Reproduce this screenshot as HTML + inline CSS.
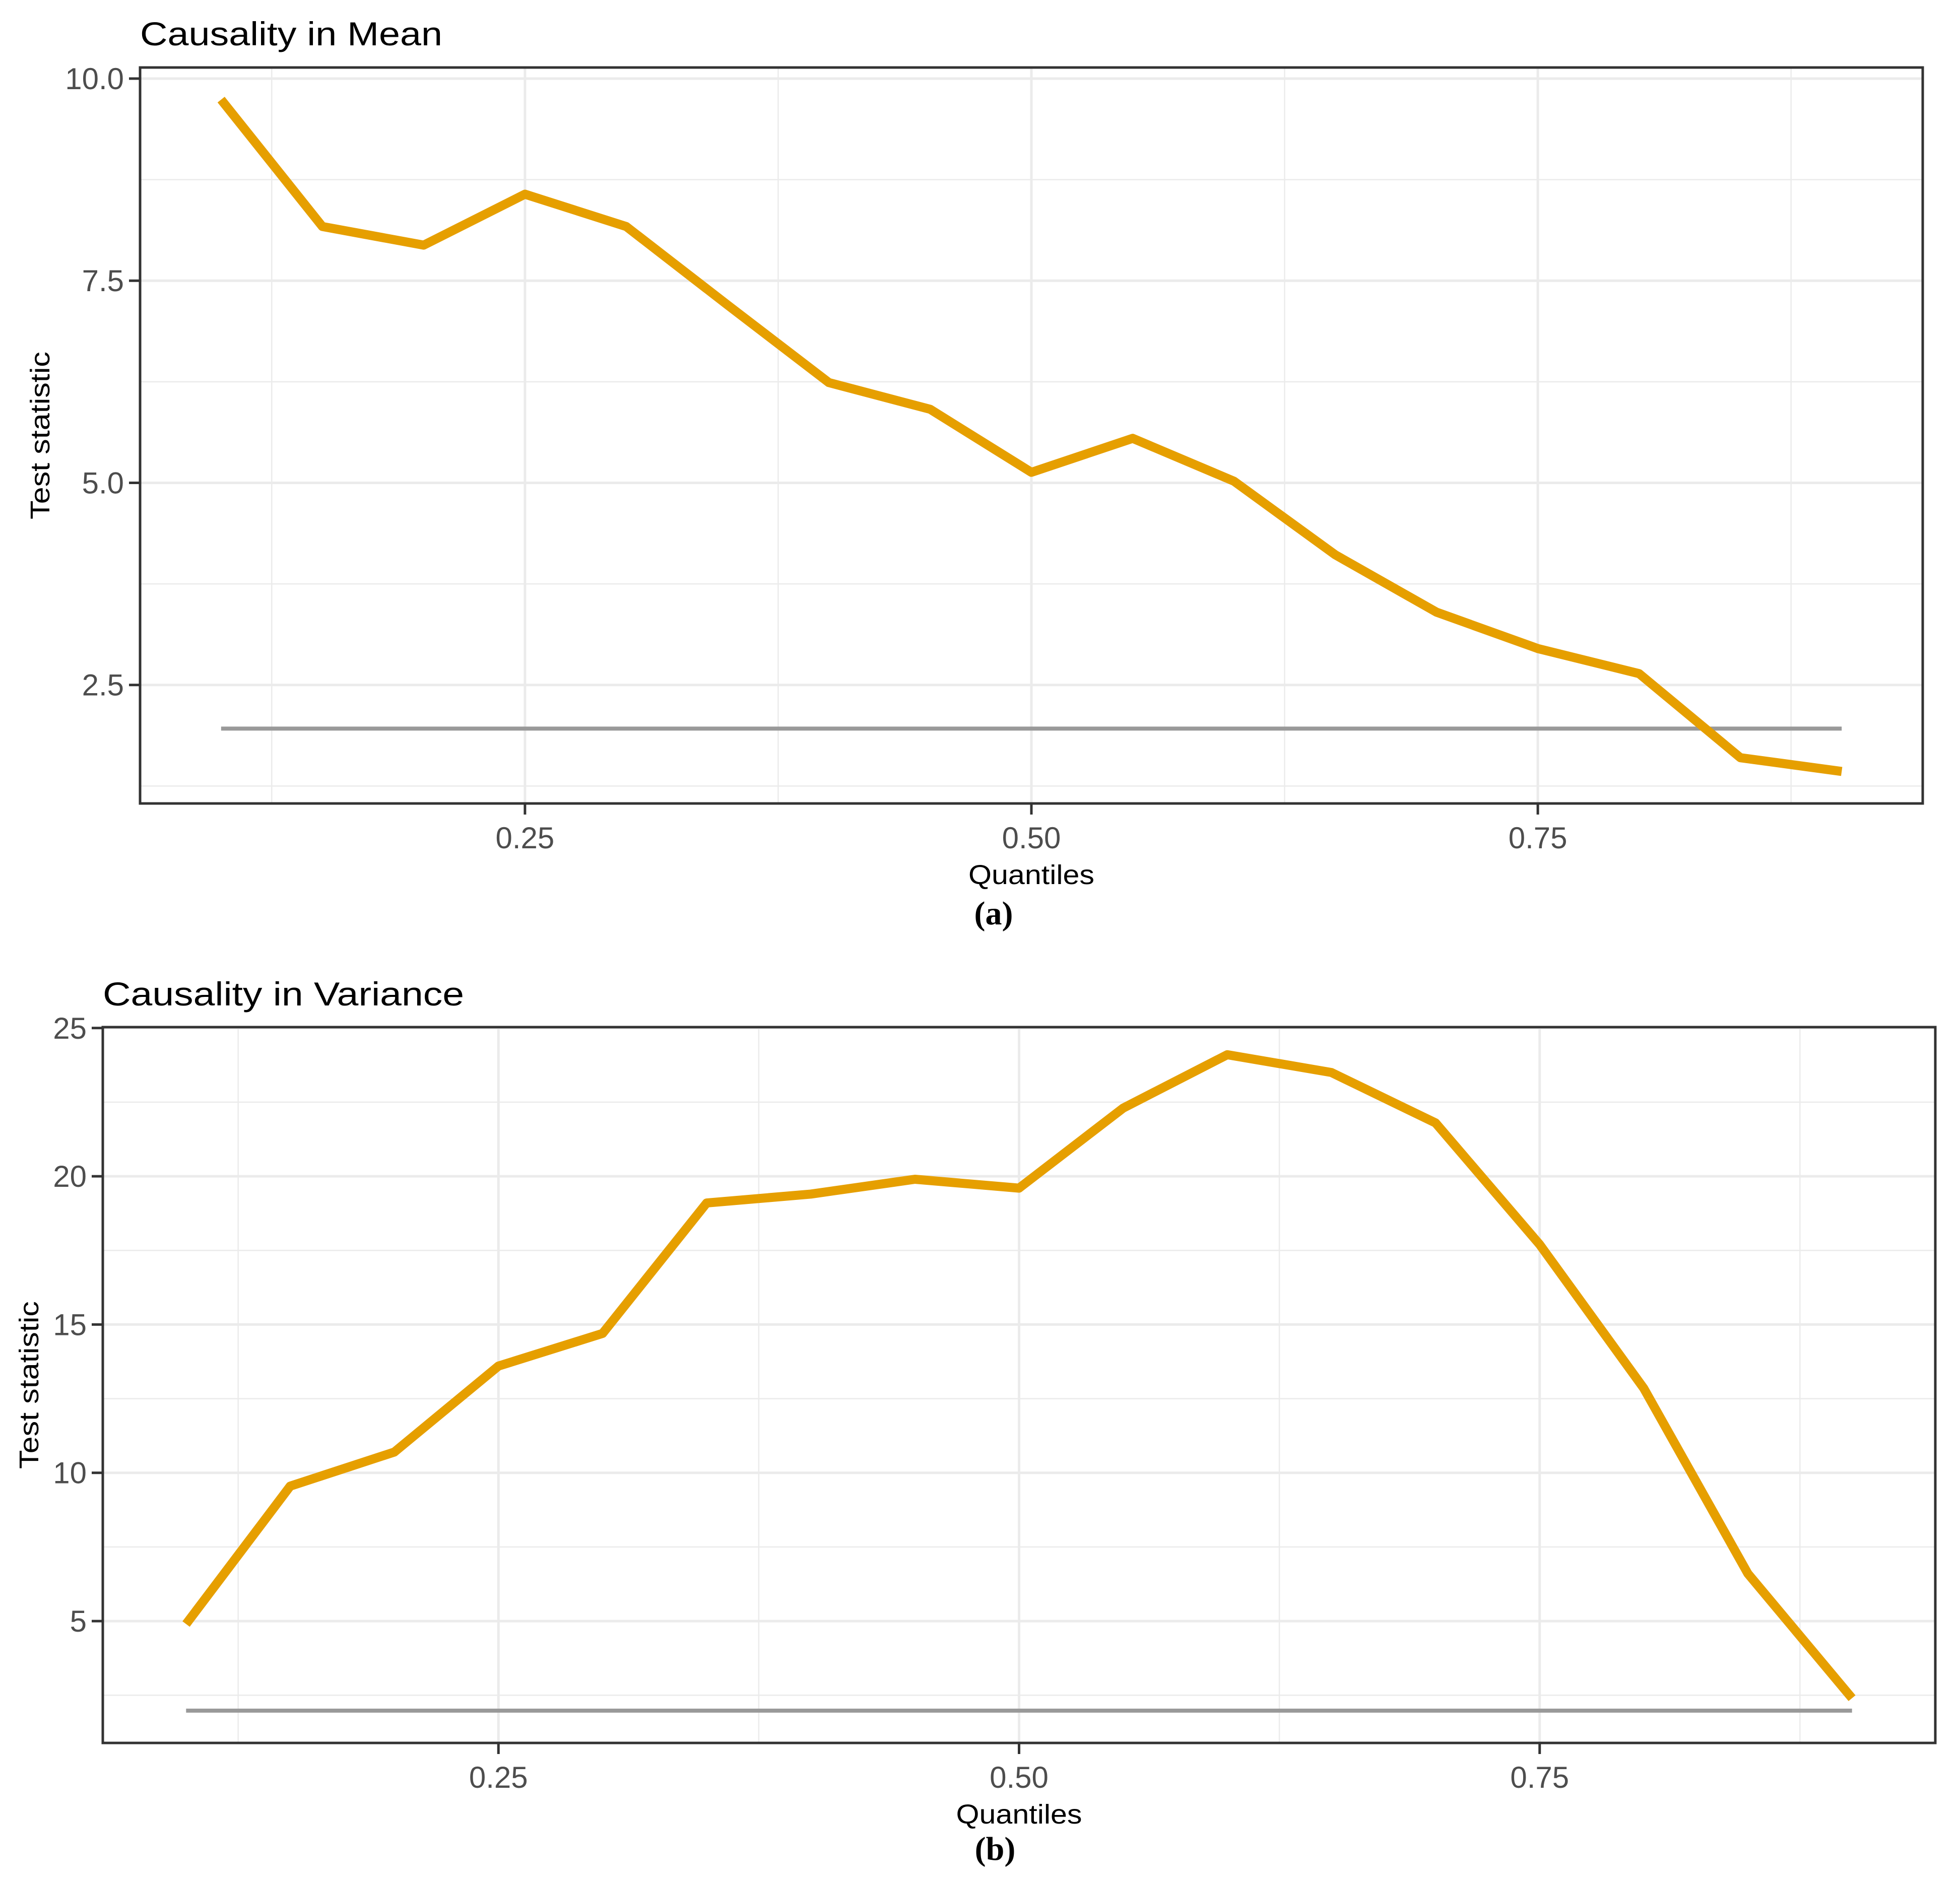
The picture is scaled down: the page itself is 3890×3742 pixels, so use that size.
<!DOCTYPE html>
<html><head><meta charset="utf-8"><style>
html,body{margin:0;padding:0;background:#fff;}
svg{display:block;}
</style></head>
<body>
<svg id="fig" width="3890" height="3742" viewBox="0 0 3890 3742" xmlns="http://www.w3.org/2000/svg"></svg>
<script>
// ---- Data ----
const quantiles = [0.10,0.15,0.20,0.25,0.30,0.35,0.40,0.45,0.50,0.55,0.60,0.65,0.70,0.75,0.80,0.85,0.90];
const meanStat = [9.74,8.17,7.94,8.57,8.17,7.20,6.24,5.91,5.13,5.55,5.02,4.11,3.40,2.95,2.64,1.60,1.43];
const meanCritical = [1.96];
const varStat = [4.9,9.55,10.7,13.6,14.7,19.1,19.4,19.9,19.6,22.3,24.1,23.5,21.8,17.7,12.85,6.6,2.4];
const varCritical = [1.98];
const xTicks = [0.25,0.50,0.75];
const xTickLabels = ["0.25","0.50","0.75"];
const xMinor = [0.125,0.375,0.625,0.875];
const meanYTicks = [2.5,5.0,7.5,10.0];
const meanYTickLabels = ["2.5","5.0","7.5","10.0"];
const meanYMinor = [1.25,3.75,6.25,8.75];
const varYTicks = [5,10,15,20,25];
const varYTickLabels = ["5","10","15","20","25"];
const varYMinor = [2.5,7.5,12.5,17.5,22.5];

const NS = "http://www.w3.org/2000/svg";
const svg = document.getElementById("fig");
const SANS = "font-family:'Liberation Sans',Arial,sans-serif";
function mk(tag, attrs, parent){
  const e = document.createElementNS(NS, tag);
  for (const k in attrs) e.setAttribute(k, attrs[k]);
  (parent||svg).appendChild(e);
  return e;
}

function drawPanel(cfg){
  const g = mk("g", {});
  
  
  const L=cfg.left, R=cfg.right, T=cfg.top, B=cfg.bottom;
  const xs = v => L + (v - cfg.xmin)/(cfg.xmax - cfg.xmin)*(R-L);
  const ys = v => B - (v - cfg.ymin)/(cfg.ymax - cfg.ymin)*(B-T);
  cfg.yMinor.forEach(v=>{ const l=mk("line",{x1:L,x2:R,y1:ys(v),y2:ys(v),stroke:"#ebebeb","stroke-width":2.5},g);
      });
  xMinor.forEach(v=>{ const l=mk("line",{x1:xs(v),x2:xs(v),y1:T,y2:B,stroke:"#ebebeb","stroke-width":2.5},g);
      });
  cfg.yTicks.forEach(v=>{ const l=mk("line",{x1:L,x2:R,y1:ys(v),y2:ys(v),stroke:"#ebebeb","stroke-width":5},g);
      });
  xTicks.forEach(v=>{ const l=mk("line",{x1:xs(v),x2:xs(v),y1:T,y2:B,stroke:"#ebebeb","stroke-width":5},g);
      });
  const c = mk("line",{x1:xs(quantiles[0]),x2:xs(quantiles[quantiles.length-1]),y1:ys(cfg.crit[0]),y2:ys(cfg.crit[0]),stroke:"#999999","stroke-width":8},g);
   
  const pts = quantiles.map((q,i)=>xs(q)+","+ys(cfg.vals[i])).join(" ");
  const p = mk("polyline",{points:pts,fill:"none",stroke:"#E69F00","stroke-width":18,"stroke-linejoin":"round"},g);
   
  const b = mk("rect",{x:L,y:T,width:R-L,height:B-T,fill:"none",stroke:"#333333","stroke-width":5},g);
   
  cfg.yTicks.forEach((v,i)=>{
    const t = mk("line",{x1:L-22,x2:L,y1:ys(v),y2:ys(v),stroke:"#333333","stroke-width":5},g);
     
    const tx = mk("text",{x:L-32,y:ys(v)+21,"text-anchor":"end","font-size":60,fill:"#4d4d4d",style:SANS},g);
    tx.textContent = cfg.yLabels[i];
     
  });
  xTicks.forEach((v,i)=>{
    const t = mk("line",{x1:xs(v),x2:xs(v),y1:B,y2:B+22,stroke:"#333333","stroke-width":5},g);
     
    const tx = mk("text",{x:xs(v),y:B+89,"text-anchor":"middle","font-size":60,fill:"#4d4d4d",style:SANS},g);
    tx.textContent = xTickLabels[i];
     
  });
  const tt = mk("text",{x:L,y:cfg.titleY,"font-size":66,fill:"#000",textLength:cfg.titleW,lengthAdjust:"spacingAndGlyphs",style:SANS},g);
  tt.textContent = cfg.title;
   
  const xt = mk("text",{x:(L+R)/2,y:B+160,"text-anchor":"middle","font-size":54,fill:"#000",textLength:250,lengthAdjust:"spacingAndGlyphs",style:SANS},g);
  xt.textContent = "Quantiles";
   
  const cy=(T+B)/2;
  const yt = mk("text",{x:cfg.yTitleX,y:cy,"text-anchor":"middle","font-size":54,fill:"#000",transform:"rotate(-90 "+cfg.yTitleX+" "+cy+")",textLength:333,lengthAdjust:"spacingAndGlyphs",style:SANS},g);
  yt.textContent = "Test statistic";
   
  const cap = mk("text",{x:cfg.capX,y:B+cfg.capDY,"text-anchor":"middle","font-size":66,"font-weight":"bold",fill:"#000",style:"font-family:'Liberation Serif',serif"},g);
  cap.textContent = cfg.caption;
   
}

drawPanel({name:"mean-panel",left:278,right:3816,top:134,bottom:1595,xmin:0.06,xmax:0.94,ymin:1.034,ymax:10.137,
  vals:meanStat,crit:meanCritical,yTicks:meanYTicks,yLabels:meanYTickLabels,yMinor:meanYMinor,
  title:"Causality in Mean",titleY:90,titleW:600,yTitleX:98,caption:"(a)",capX:1972,capDY:240});
drawPanel({name:"variance-panel",left:204,right:3841,top:2039,bottom:3460,xmin:0.06,xmax:0.94,ymin:0.89,ymax:25.03,
  vals:varStat,crit:varCritical,yTicks:varYTicks,yLabels:varYTickLabels,yMinor:varYMinor,
  title:"Causality in Variance",titleY:1996,titleW:717,yTitleX:76,caption:"(b)",capX:1975,capDY:232});
</script>
</body></html>
